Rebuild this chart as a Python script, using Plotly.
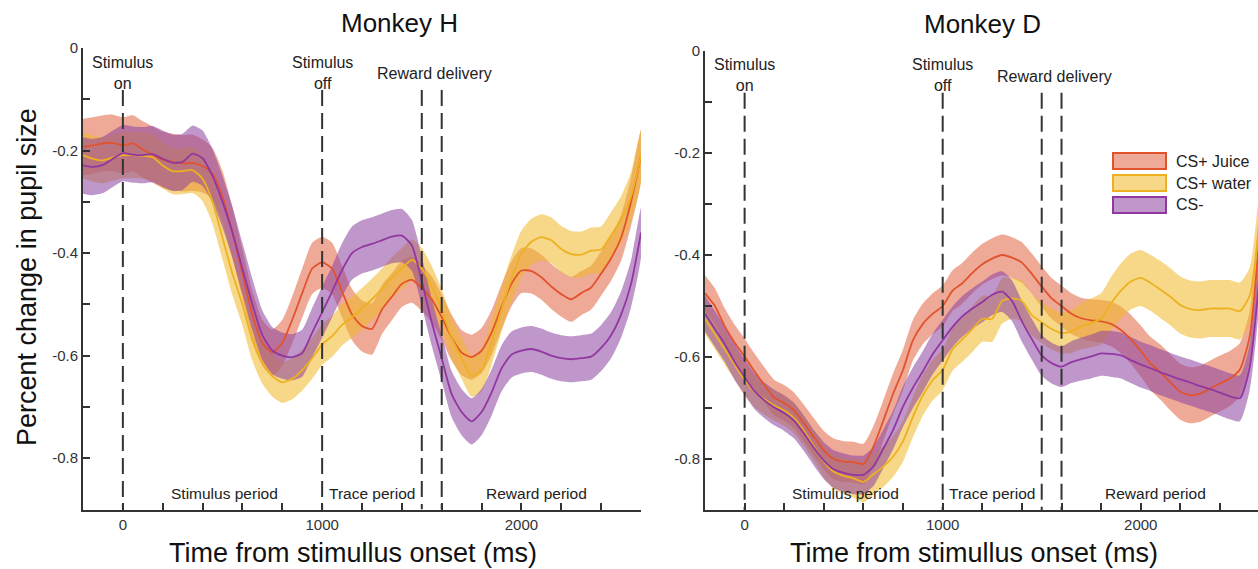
import plotly.graph_objects as go

# ---------------- data ----------------
T = list(range(-200, 2601, 50))  # time grid (ms), 57 samples

# Monkey H (left panel) mean pupil change
juice_H = [-0.193, -0.19, -0.186, -0.185, -0.19, -0.186, -0.198, -0.208, -0.218, -0.222,
           -0.225, -0.224, -0.23, -0.245, -0.29, -0.36, -0.44, -0.52, -0.575, -0.594,
           -0.575, -0.53, -0.478, -0.43, -0.418, -0.43, -0.475, -0.52, -0.542, -0.548,
           -0.51, -0.485, -0.46, -0.452, -0.468, -0.49, -0.525, -0.565, -0.594, -0.603,
           -0.59, -0.555, -0.505, -0.46, -0.434, -0.435, -0.447, -0.465, -0.48, -0.49,
           -0.478, -0.467, -0.44, -0.41, -0.37, -0.30, -0.21]
water_H = [-0.209, -0.216, -0.219, -0.214, -0.209, -0.209, -0.21, -0.213, -0.229, -0.24,
           -0.24, -0.238, -0.255, -0.30, -0.37, -0.44, -0.50, -0.57, -0.615, -0.64,
           -0.652, -0.645, -0.628, -0.605, -0.578, -0.562, -0.54, -0.525, -0.508, -0.49,
           -0.47, -0.448, -0.43, -0.413, -0.43, -0.465, -0.51, -0.565, -0.605, -0.64,
           -0.628, -0.575, -0.51, -0.45, -0.401, -0.378, -0.369, -0.375, -0.392, -0.402,
           -0.403, -0.395, -0.393, -0.365, -0.335, -0.29, -0.21]
csm_H = [-0.229, -0.232, -0.228, -0.216, -0.205, -0.208, -0.209, -0.207, -0.216, -0.224,
         -0.222, -0.206, -0.215, -0.25, -0.30, -0.36, -0.43, -0.50, -0.56, -0.59,
         -0.60, -0.603, -0.595, -0.555, -0.515, -0.475, -0.433, -0.40, -0.388, -0.382,
         -0.375, -0.368, -0.366, -0.385, -0.455, -0.535, -0.605, -0.675, -0.71, -0.728,
         -0.71, -0.672, -0.625, -0.598, -0.59, -0.587, -0.592, -0.60, -0.605, -0.607,
         -0.605, -0.602, -0.585, -0.56, -0.52, -0.46, -0.36]

# Monkey H standard error (band half-width)
juice_H_sem = [0.055, 0.055, 0.055, 0.055, 0.055, 0.055, 0.055, 0.055, 0.055, 0.055,
               0.055, 0.055, 0.052, 0.05, 0.05, 0.05, 0.048, 0.046, 0.045, 0.045,
               0.045, 0.046, 0.048, 0.05, 0.05, 0.05, 0.05, 0.05, 0.05, 0.05,
               0.048, 0.046, 0.045, 0.045, 0.045, 0.045, 0.045, 0.045, 0.044, 0.044,
               0.044, 0.044, 0.044, 0.044, 0.044, 0.044, 0.044, 0.044, 0.044, 0.044,
               0.043, 0.043, 0.043, 0.044, 0.045, 0.047, 0.05]
water_H_sem = [0.045, 0.045, 0.045, 0.045, 0.045, 0.045, 0.045, 0.045, 0.045, 0.045,
               0.045, 0.045, 0.044, 0.043, 0.042, 0.042, 0.041, 0.04, 0.04, 0.04,
               0.04, 0.04, 0.04, 0.04, 0.04, 0.04, 0.04, 0.04, 0.04, 0.04,
               0.04, 0.04, 0.04, 0.04, 0.04, 0.04, 0.04, 0.04, 0.04, 0.04,
               0.042, 0.043, 0.044, 0.045, 0.045, 0.045, 0.045, 0.045, 0.045, 0.045,
               0.045, 0.045, 0.045, 0.045, 0.046, 0.048, 0.05]
csm_H_sem = [0.055, 0.055, 0.055, 0.055, 0.055, 0.055, 0.055, 0.055, 0.055, 0.055,
             0.055, 0.055, 0.054, 0.052, 0.05, 0.05, 0.05, 0.05, 0.048, 0.046,
             0.045, 0.045, 0.046, 0.048, 0.05, 0.05, 0.052, 0.052, 0.052, 0.052,
             0.052, 0.052, 0.052, 0.05, 0.048, 0.046, 0.045, 0.045, 0.045, 0.045,
             0.045, 0.045, 0.045, 0.045, 0.045, 0.045, 0.045, 0.045, 0.045, 0.045,
             0.045, 0.045, 0.045, 0.045, 0.045, 0.046, 0.048]

# Monkey D (right panel) mean pupil change
juice_D = [-0.475, -0.50, -0.54, -0.572, -0.599, -0.628, -0.655, -0.68, -0.69, -0.705,
           -0.73, -0.757, -0.783, -0.80, -0.805, -0.806, -0.81, -0.776, -0.725, -0.672,
           -0.625, -0.567, -0.535, -0.515, -0.50, -0.47, -0.455, -0.435, -0.418, -0.407,
           -0.40, -0.405, -0.415, -0.437, -0.462, -0.485, -0.50, -0.515, -0.524, -0.528,
           -0.53, -0.535, -0.547, -0.565, -0.588, -0.613, -0.63, -0.65, -0.668, -0.675,
           -0.672, -0.662, -0.652, -0.642, -0.625, -0.56, -0.36]
water_D = [-0.525, -0.555, -0.585, -0.615, -0.645, -0.668, -0.683, -0.695, -0.705, -0.72,
           -0.745, -0.775, -0.805, -0.825, -0.833, -0.838, -0.845, -0.83, -0.815, -0.795,
           -0.765, -0.717, -0.675, -0.645, -0.625, -0.585, -0.565, -0.545, -0.525, -0.525,
           -0.49, -0.485, -0.49, -0.518, -0.532, -0.545, -0.553, -0.55, -0.54, -0.533,
           -0.525, -0.495, -0.47, -0.452, -0.445, -0.455, -0.468, -0.482, -0.498, -0.506,
           -0.508, -0.505, -0.505, -0.505, -0.51, -0.48, -0.33]
csm_D = [-0.515, -0.545, -0.575, -0.61, -0.639, -0.667, -0.685, -0.699, -0.71, -0.725,
         -0.75, -0.778, -0.803, -0.82, -0.827, -0.831, -0.831, -0.815, -0.78, -0.743,
         -0.697, -0.66, -0.628, -0.594, -0.567, -0.541, -0.52, -0.505, -0.492, -0.478,
         -0.472, -0.49, -0.53, -0.565, -0.597, -0.612, -0.619, -0.61, -0.604, -0.599,
         -0.593, -0.594, -0.597, -0.606, -0.615, -0.622, -0.63, -0.637, -0.644, -0.65,
         -0.657, -0.663, -0.67, -0.677, -0.681, -0.62, -0.44]

juice_D_sem = [0.035, 0.035, 0.035, 0.035, 0.035, 0.035, 0.035, 0.035, 0.035, 0.035,
               0.036, 0.037, 0.038, 0.04, 0.04, 0.04, 0.04, 0.04, 0.04, 0.04,
               0.04, 0.04, 0.04, 0.04, 0.04, 0.04, 0.04, 0.04, 0.04, 0.04,
               0.04, 0.04, 0.04, 0.04, 0.04, 0.04, 0.04, 0.04, 0.04, 0.041,
               0.042, 0.044, 0.046, 0.048, 0.05, 0.052, 0.054, 0.055, 0.055, 0.055,
               0.055, 0.055, 0.055, 0.054, 0.052, 0.05, 0.05]
water_D_sem = [0.03, 0.03, 0.03, 0.03, 0.03, 0.03, 0.03, 0.03, 0.03, 0.03,
               0.03, 0.03, 0.032, 0.034, 0.036, 0.038, 0.04, 0.04, 0.04, 0.04,
               0.04, 0.04, 0.04, 0.04, 0.04, 0.042, 0.044, 0.045, 0.045, 0.045,
               0.045, 0.04, 0.04, 0.04, 0.04, 0.04, 0.04, 0.042, 0.045, 0.048,
               0.05, 0.052, 0.054, 0.055, 0.055, 0.055, 0.056, 0.056, 0.056, 0.056,
               0.056, 0.056, 0.056, 0.056, 0.056, 0.055, 0.055]
csm_D_sem = [0.035, 0.035, 0.035, 0.035, 0.035, 0.035, 0.035, 0.035, 0.035, 0.035,
             0.035, 0.035, 0.036, 0.037, 0.038, 0.038, 0.038, 0.038, 0.038, 0.038,
             0.04, 0.04, 0.04, 0.04, 0.04, 0.04, 0.04, 0.04, 0.04, 0.04,
             0.04, 0.04, 0.04, 0.04, 0.04, 0.04, 0.04, 0.041, 0.042, 0.043,
             0.044, 0.045, 0.045, 0.045, 0.045, 0.045, 0.045, 0.045, 0.045, 0.045,
             0.045, 0.045, 0.045, 0.045, 0.045, 0.045, 0.045]

series_names = ["CS+ Juice", "CS+ water", "CS-"]
line_colors = ["#E2532D", "#EDB120", "#9237A0"]
fill_colors = ["rgba(222,92,55,0.52)", "rgba(240,184,38,0.55)", "rgba(140,66,160,0.55)"]

event_times = [0, 1000, 1500, 1600]
x_ticks = [0, 1000, 2000]
x_minor = [200, 400, 600, 800, 1200, 1400, 1600, 1800, 2200, 2400]
y_ticks = [0, -0.2, -0.4, -0.6, -0.8]
y_ticktext = ["0", "-0.2", "-0.4", "-0.6", "-0.8"]
y_minor = [-0.1, -0.3, -0.5, -0.7]

panels = [
    dict(means=[juice_H, water_H, csm_H], sems=[juice_H_sem, water_H_sem, csm_H_sem],
         xa="x", ya="y"),
    dict(means=[juice_D, water_D, csm_D], sems=[juice_D_sem, water_D_sem, csm_D_sem],
         xa="x2", ya="y2"),
]

W, H = 1258, 569
FONT = "Liberation Sans, Arial, sans-serif"
fig = go.Figure()

for p in panels:
    # bands
    for m, s, fc in zip(p["means"], p["sems"], fill_colors):
        up = [a + b for a, b in zip(m, s)]
        lo = [a - b for a, b in zip(m, s)]
        fig.add_trace(go.Scatter(
            x=T + T[::-1], y=up + lo[::-1], fill="toself", fillcolor=fc,
            line=dict(width=0, shape="spline", smoothing=0.6), mode="lines",
            hoverinfo="skip", showlegend=False, xaxis=p["xa"], yaxis=p["ya"]))
    # mean lines
    for m, lc, nm in zip(p["means"], line_colors, series_names):
        fig.add_trace(go.Scatter(
            x=T, y=m, mode="lines", name=nm,
            line=dict(color=lc, width=1.8, shape="spline", smoothing=0.6),
            showlegend=False, xaxis=p["xa"], yaxis=p["ya"]))

# event dashed lines
shapes = []
for xa, ya in [("x", "y"), ("x2", "y2")]:
    for t in event_times:
        shapes.append(dict(type="line", xref=xa, yref=ya, x0=t, x1=t, y0=-0.082, y1=-0.9,
                           line=dict(color="#333333", width=2, dash="16px,7px"), layer="above"))

# manual legend
leg_centers = [161, 183, 205]
for c, lc, fc in zip(leg_centers, line_colors, fill_colors):
    shapes.append(dict(type="rect", xref="paper", yref="paper",
                       x0=1113 / W, x1=1166 / W, y0=1 - (c + 8) / H, y1=1 - (c - 8) / H,
                       fillcolor=fc, line=dict(color=lc, width=2)))

annotations = []
for c, nm in zip(leg_centers, series_names):
    annotations.append(dict(text=nm, xref="paper", yref="paper", x=1174 / W, y=1 - c / H,
                            xanchor="left", yanchor="middle", showarrow=False,
                            font=dict(family=FONT, size=16, color="#222222")))

# event labels and period labels
for xa, ya in [("x", "y"), ("x2", "y2")]:
    for txt, x, y in [("Stimulus<br>on", 0, -0.048), ("Stimulus<br>off", 1000, -0.048),
                      ("Reward delivery", 1565, -0.05)]:
        annotations.append(dict(text=txt, xref=xa, yref=ya, x=x, y=y, showarrow=False,
                                xanchor="center", yanchor="middle",
                                font=dict(family=FONT, size=16, color="#222222")))
    for txt, x in [("Stimulus period", 510), ("Trace period", 1250), ("Reward period", 2075)]:
        annotations.append(dict(text=txt, xref=xa, yref=ya, x=x, y=-0.868, showarrow=False,
                                xanchor="center", yanchor="middle",
                                font=dict(family=FONT, size=15.5, color="#222222")))

# titles
for txt, xp, yp in [("Monkey H", 399, 23), ("Monkey D", 982, 24)]:
    annotations.append(dict(text=txt, xref="paper", yref="paper", x=xp / W, y=1 - yp / H,
                            xanchor="center", yanchor="middle", showarrow=False,
                            font=dict(family=FONT, size=26, color="#111111")))
for xp in [353, 974]:
    annotations.append(dict(text="Time from stimullus onset (ms)", xref="paper", yref="paper",
                            x=xp / W, y=1 - 553 / H, xanchor="center", yanchor="middle",
                            showarrow=False, font=dict(family=FONT, size=27, color="#111111")))
annotations.append(dict(text="Percent change in pupil size", xref="paper", yref="paper",
                        x=27 / W, y=1 - 277 / H, xanchor="center", yanchor="middle",
                        textangle=-90, showarrow=False,
                        font=dict(family=FONT, size=27, color="#111111")))

axis_common = dict(showline=True, linecolor="#333333", linewidth=2, showgrid=False,
                   zeroline=False, ticks="inside", ticklen=7, tickwidth=1.5,
                   tickcolor="#333333", tickfont=dict(family=FONT, size=15, color="#333333"),
                   fixedrange=True, automargin=False)

xcommon = dict(axis_common, tickvals=x_ticks, ticktext=[str(v) for v in x_ticks],
               minor=dict(tickvals=x_minor, ticks="inside", ticklen=7, tickwidth=1.5,
                          tickcolor="#333333"))
ycommon = dict(axis_common, range=[-0.9, 0], tickvals=y_ticks, ticktext=y_ticktext,
               minor=dict(tickvals=y_minor, ticks="inside", ticklen=7, tickwidth=1.5,
                          tickcolor="#333333"))

fig.update_layout(
    width=W, height=H, margin=dict(l=0, r=0, t=0, b=0, pad=0, autoexpand=False),
    paper_bgcolor="white", plot_bgcolor="white", showlegend=False,
    xaxis=dict(xcommon, domain=[83 / W, 641 / W], range=[-200, 2600], anchor="y"),
    yaxis=dict(ycommon, domain=[1 - 509.5 / H, 1 - 48 / H], anchor="x"),
    xaxis2=dict(xcommon, domain=[705 / W, 1.0], range=[-200, 2592], anchor="y2"),
    yaxis2=dict(ycommon, domain=[1 - 510 / H, 1 - 51 / H], anchor="x2"),
    shapes=shapes, annotations=annotations, hovermode=False,
)

fig.write_html("out.html", config={"displayModeBar": False})
